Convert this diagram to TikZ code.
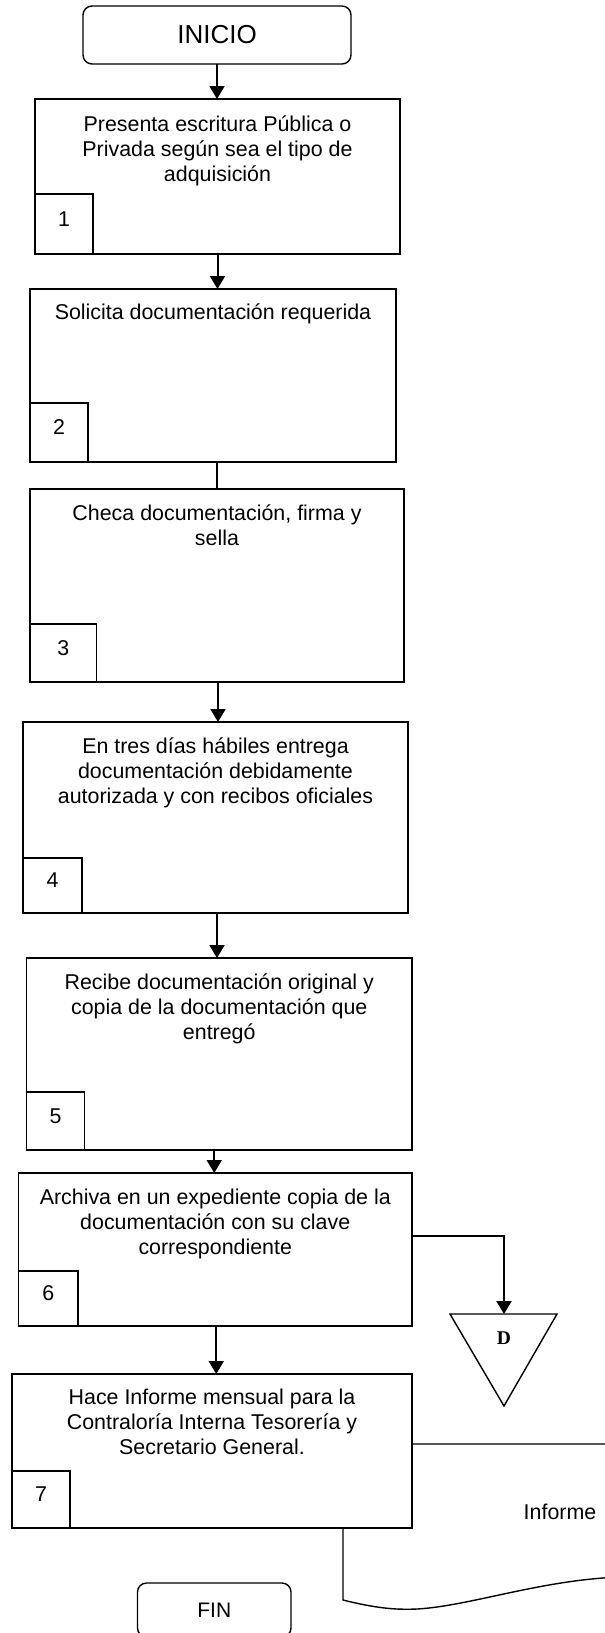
\documentclass[tikz,border=0pt]{standalone}
\usepackage{fontspec}
\setmainfont{Liberation Sans}
\newfontfamily\serifbold{Liberation Serif}
\usetikzlibrary{arrows.meta,calc}

\tikzset{
  proc/.style={draw, fill=white, line width=1.4pt, inner sep=0pt, outer sep=0pt},
  numbox/.style={proc, anchor=south west, minimum width=58pt, text depth=10pt,
    font=\fontsize{21.4}{25}\selectfont},
  proctext/.style={anchor=base, align=center, inner sep=0pt,
    font=\fontsize{21.4}{25}\selectfont},
  terminal/.style={proc, rounded corners=9pt},
  flow/.style={line width=2pt, -{Triangle[length=13pt,width=15pt]}},
  link/.style={line width=1.6pt},
}

\begin{document}
\begin{tikzpicture}[x=1pt, y=-1pt, line join=miter]

\fill[white] (0,0) rectangle (605,1633);
\clip (0,0) rectangle (605,1633);

%==================================================
% Informe (document shape, partly under step 7)
%==================================================
\draw[proc]
  (343,1444) -- (650,1444) -- (650,1577) -- (620,1577)
  .. controls (540,1580) and (470,1606) .. (417,1609)
  .. controls (395,1610) and (375,1608) .. (343,1600) -- cycle;
\node[font=\fontsize{21.4}{25}\selectfont] (informe) at (560,1512) {Informe};

%==================================================
% Start
%==================================================
\node[terminal, minimum width=268pt, minimum height=58pt,
      font=\fontsize{26}{30}\selectfont] (inicio) at (217,35) {INICIO};

%==================================================
% Steps 1 to 7  (text base = last line)
%==================================================
\node[proc, minimum width=365pt, minimum height=155pt] (b1) at (217.5,176.5) {};
\node[numbox, minimum height=60pt] (n1) at (b1.south west) {1};
\node[proctext] (t1) at ($(b1.north)+(0,82)$)
  {Presenta escritura Pública o\\Privada según sea el tipo de\\adquisición};

\node[proc, minimum width=366pt, minimum height=173pt] (b2) at (213,375.5) {};
\node[numbox, minimum height=59pt] (n2) at (b2.south west) {2};
\node[proctext] (t2) at ($(b2.north)+(0,30)$) {Solicita documentación requerida};

\node[proc, minimum width=374pt, minimum height=193pt] (b3) at (217,585.5) {};
\node[numbox, minimum width=66.5pt, minimum height=58pt] (n3) at (b3.south west) {3};
\node[proctext] (t3) at ($(b3.north)+(0,56)$)
  {Checa documentación, firma y\\sella};

\node[proc, minimum width=385pt, minimum height=191pt] (b4) at (215.5,817.5) {};
\node[numbox, minimum width=59pt, minimum height=55pt] (n4) at (b4.south west) {4};
\node[proctext] (t4) at ($(b4.north)+(0,81)$)
  {En tres días hábiles entrega\\documentación debidamente\\autorizada y con recibos oficiales};

\node[proc, minimum width=385.5pt, minimum height=192pt] (b5) at (219.25,1054) {};
\node[numbox, minimum height=58pt] (n5) at (b5.south west) {5};
\node[proctext] (t5) at ($(b5.north)+(0,81)$)
  {Recibe documentación original y\\copia de la documentación que\\entregó};

\node[proc, minimum width=393.5pt, minimum height=153pt] (b6) at (215.25,1249.5) {};
\node[numbox, minimum width=59.5pt, minimum height=55pt] (n6) at (b6.south west) {6};
\node[proctext] (t6) at ($(b6.north)+(0,81)$)
  {Archiva en un expediente copia de la\\documentación con su clave\\correspondiente};

\node[proc, minimum width=400pt, minimum height=154pt] (b7) at (212,1451) {};
\node[numbox, minimum height=57pt] (n7) at (b7.south west) {7};
\node[proctext] (t7) at ($(b7.north)+(0,80)$)
  {Hace Informe mensual para la\\Contraloría Interna Tesorería y\\Secretario General.};

%==================================================
% Archive (triangle D)
%==================================================
\coordinate (dtop) at (504,1314);
\draw[proc] (450,1314) -- (557,1314) -- (504,1406) -- cycle;
\node[font=\serifbold\bfseries\fontsize{19.5}{22}\selectfont] (darch) at (504,1338) {D};

%==================================================
% End (cut by the page border)
%==================================================
\node[terminal, minimum width=153.5pt, minimum height=54pt,
      font=\fontsize{21}{25}\selectfont] (fin) at (214.25,1610) {FIN};

%==================================================
% Connectors
%==================================================
\coordinate (s2) at ($(b2.south)+(4,0)$);
\coordinate (s3) at ($(b3.south)+(1,0)$);
\coordinate (s4) at ($(b4.south)+(1.5,0)$);
\coordinate (s5) at ($(b5.south)+(-5,0)$);
\coordinate (s6) at ($(b6.south)+(1,0)$);
\coordinate (e6) at ($(b6.east)+(0,-13.5)$);

\draw[flow] (inicio.south) -- (inicio.south |- b1.north);
\draw[flow] (b1.south) -- (b1.south |- b2.north);
\draw[link] (s2) -- (s2 |- b3.north);
\draw[flow] (s3) -- (s3 |- b4.north);
\draw[flow] (s4) -- (s4 |- b5.north);
\draw[flow] (s5) -- (s5 |- b6.north);
\draw[flow] (s6) -- (s6 |- b7.north);
\draw[flow] (e6) -| (dtop);

\end{tikzpicture}
\end{document}
